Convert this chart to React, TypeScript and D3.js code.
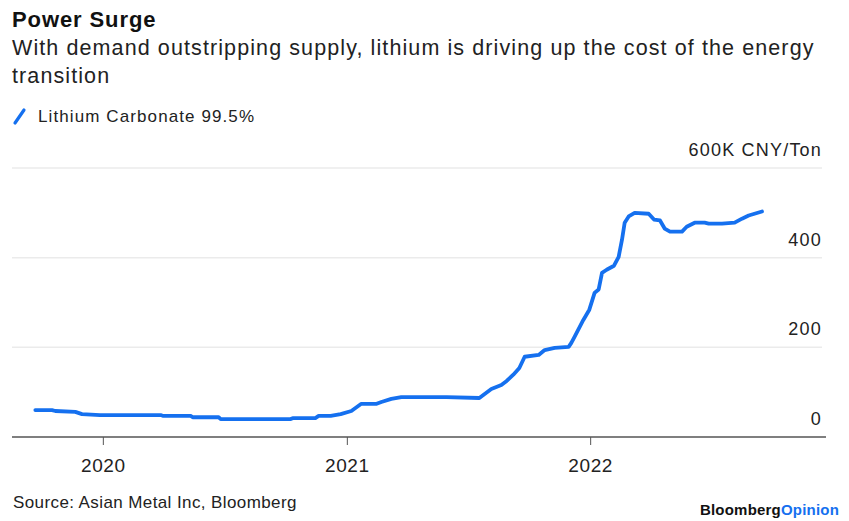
import { useEffect } from 'react';
import * as d3 from 'd3';

// Lithium carbonate 99.5%, thousand CNY per ton
const dates = [
  '2019-09-21', '2019-10-16', '2019-10-21', '2019-11-20', '2019-11-30', '2019-12-27',
  '2020-03-27', '2020-03-31', '2020-05-11', '2020-05-14', '2020-06-22', '2020-06-25',
  '2020-10-08', '2020-10-11', '2020-11-14', '2020-11-19', '2020-12-07', '2020-12-22',
  '2021-01-07', '2021-01-22', '2021-02-14', '2021-02-21', '2021-03-08', '2021-03-23',
  '2021-05-30', '2021-07-18', '2021-08-05', '2021-08-20', '2021-08-28', '2021-09-07',
  '2021-09-16', '2021-09-24', '2021-10-15', '2021-10-24', '2021-11-08', '2021-11-29',
  '2021-12-03', '2021-12-08', '2021-12-21', '2021-12-30', '2022-01-07', '2022-01-13',
  '2022-01-18', '2022-01-25', '2022-02-05', '2022-02-12', '2022-02-17', '2022-02-21',
  '2022-02-27', '2022-03-08', '2022-03-29', '2022-04-06', '2022-04-15', '2022-04-22',
  '2022-04-30', '2022-05-18', '2022-05-25', '2022-06-06', '2022-06-21', '2022-06-27',
  '2022-07-17', '2022-08-05', '2022-08-16', '2022-08-26', '2022-09-15',
];
const prices = [
  60, 60, 58, 56, 51, 49,
  49, 47, 47, 44, 44, 40,
  40, 42, 42, 47, 47, 51,
  58, 74, 74, 78, 85, 89,
  89, 87, 107, 116, 125, 139,
  154, 179, 183, 194, 199, 201,
  210, 224, 261, 284, 322, 329,
  366, 373, 382, 402, 440, 478,
  492, 500, 498, 485, 483, 465,
  458, 458, 469, 478, 478, 476,
  476, 478, 487, 494, 503,
];
const yTicks = [0, 200, 400, 600];
const xTicks = ['2020-01-01', '2021-01-01', '2022-01-01'];

const W = 849;
const H = 521;
const left = 12;
const right = 822;
const blue = '#1570ef';
const font = '"Liberation Sans", Arial, sans-serif';

export default function App() {
  useEffect(() => {
    document.body.style.margin = '0';
  }, []);

  const parse = d3.timeParse('%Y-%m-%d');
  const data = dates.map((d, i) => ({ date: parse(d)!, value: prices[i] }));

  const x = d3
    .scaleTime()
    .domain([parse('2019-08-17')!, parse('2022-12-20')!])
    .range([left, 826]);
  const y = d3.scaleLinear().domain([0, 600]).range([437, 168]);

  const line = d3
    .line<(typeof data)[0]>()
    .x((d) => x(d.date))
    .y((d) => y(d.value));

  return (
    <svg width={W} height={H} style={{ display: 'block', background: '#fff' }} fontFamily={font}>
      <text x={12} y={27} fontSize={22} fontWeight={700} letterSpacing={0.9} fill="#111">Power Surge</text>
      <text x={12} y={55} fontSize={21.5} letterSpacing={1.1} fill="#222">
        With demand outstripping supply, lithium is driving up the cost of the energy
      </text>
      <text x={12} y={83} fontSize={21.5} letterSpacing={1.1} fill="#222">transition</text>

      <line x1={15} y1={123} x2={24} y2={110} stroke={blue} strokeWidth={3.2} strokeLinecap="round" />
      <text x={38} y={122} fontSize={17} letterSpacing={1.1} fill="#222">Lithium Carbonate 99.5%</text>

      {yTicks.map((t) => (
        <g key={t}>
          {t > 0 && (
            <line x1={left} x2={right} y1={y(t)} y2={y(t)} stroke="#ebebeb" strokeWidth={1.5} />
          )}
          <text x={right} y={y(t) - 12} textAnchor="end" fontSize={18} letterSpacing={1.2} fill="#222">
            {t === 600 ? '600K CNY/Ton' : t}
          </text>
        </g>
      ))}

      <line x1={left} x2={826} y1={y(0)} y2={y(0)} stroke="#555" strokeWidth={1.5} />
      {xTicks.map((t) => {
        const px = x(parse(t)!);
        return (
          <g key={t}>
            <line x1={px} x2={px} y1={y(0)} y2={y(0) + 8} stroke="#555" strokeWidth={1} />
            <text x={px} y={472} textAnchor="middle" fontSize={19} letterSpacing={0.6} fill="#222">
              {t.slice(0, 4)}
            </text>
          </g>
        );
      })}

      <path d={line(data) ?? ''} fill="none" stroke={blue} strokeWidth={3.8} strokeLinejoin="round" strokeLinecap="round" />

      <text x={13} y={508} fontSize={17} letterSpacing={0.4} fill="#222">Source: Asian Metal Inc, Bloomberg</text>
      <text x={839} y={515} textAnchor="end" fontSize={15} fontWeight={700} letterSpacing={0.2}>
        <tspan fill="#111">Bloomberg</tspan>
        <tspan fill={blue}>Opinion</tspan>
      </text>
    </svg>
  );
}
